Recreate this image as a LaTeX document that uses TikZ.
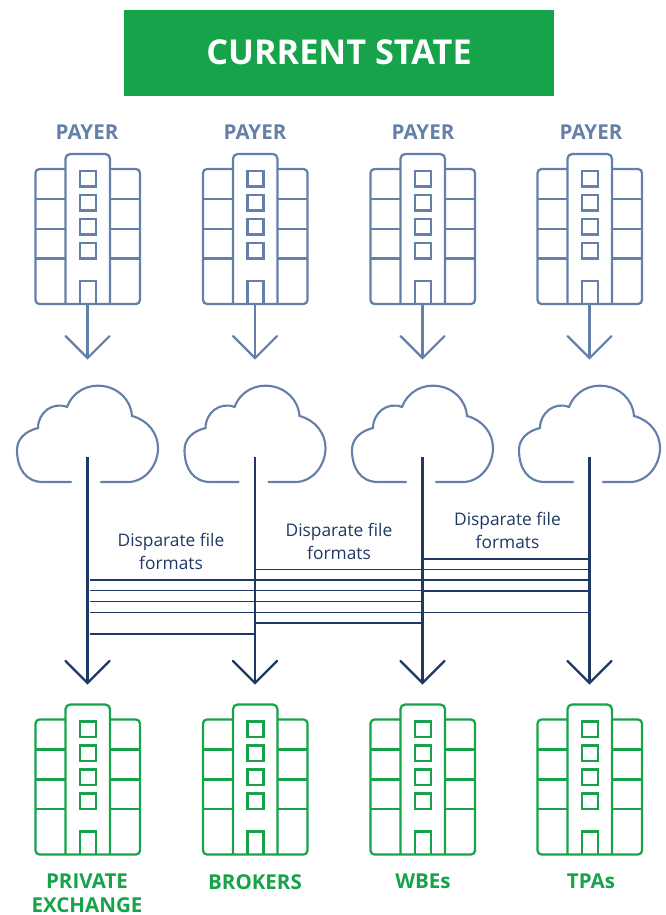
\documentclass[tikz,border=0pt]{standalone}
\usepackage{fontspec}
\setmainfont{Open Sans}
\definecolor{payerblue}{HTML}{6580A8}
\definecolor{darknavy}{HTML}{1F3864}
\definecolor{bannergreen}{HTML}{16A34A}
\tikzset{
  x=0.75pt,y=-0.75pt,
  pics/building/.style={code={
    \draw[rounded corners=3pt,line width=1.7pt,draw=#1] (-22,169) -- (-52,169) -- (-52,304) -- (52.5,304) -- (52.5,169) -- (22.5,169);
    \draw[rounded corners=3.5pt,line width=1.7pt,draw=#1] (-22,304) -- (-22,154) -- (22.5,154) -- (22.5,304);
    \draw[line width=1.7pt,draw=#1]
      (-52,199) -- (-22,199) (22.5,199) -- (52.5,199)
      (-52,229) -- (-22,229) (22.5,229) -- (52.5,229)
      (-52,258.5) -- (-22,258.5) (22.5,258.5) -- (52.5,258.5)
      (-7.5,304) -- (-7.5,281) -- (8.5,281) -- (8.5,304)
      (-7.5,171) rectangle (8.5,186.5)
      (-7.5,195) rectangle (8.5,210.5)
      (-7.5,219) rectangle (8.5,234.5)
      (-7.5,243) rectangle (8.5,258.5);
  }},
  pics/cloudshape/.style={code={
    \draw[line width=1.6pt,draw=payerblue,line cap=round]
      (-16.5,482) -- (-44.5,482)
      .. controls (-62,482) and (-70.5,468) .. (-70.5,450)
      .. controls (-70.5,439) and (-62,431) .. (-49.5,428)
      .. controls (-49.5,412.6) and (-34.8,401.3) .. (-20.5,407)
      .. controls (-7.8,374) and (41.4,381) .. (44.5,416)
      .. controls (60,420) and (70.5,433) .. (70.5,448)
      .. controls (70.5,466) and (57,482) .. (40.5,482)
      -- (13.5,482);
  }},
  stem/.style={line width=2pt,draw=darknavy},
  link/.style={line width=1pt,draw=darknavy},
  fileslabel/.style={align=center,text=darknavy,font=\fontsize{13}{17.2}\selectfont,inner sep=0pt},
  headlabel/.style={text=payerblue,font=\fontsize{15.4}{16}\selectfont\bfseries,inner sep=0pt},
  footlabel/.style={text=bannergreen,font=\fontsize{15.4}{18}\selectfont\bfseries,inner sep=0pt,align=center,anchor=north},
}
\begin{document}
\begin{tikzpicture}
\useasboundingbox (0,0) rectangle (665,915);
\fill[bannergreen] (124,10) rectangle (554,96);
\node[text=white,font=\fontsize{25.7}{28}\selectfont\bfseries,inner sep=0pt] (title) at (339,52) {CURRENT STATE};

\foreach \i/\cx in {1/87.5,2/255,3/422.5,4/589.5}{
  \coordinate (col\i) at (\cx,0);
  \pic at (\cx,0) {building=payerblue};
  \pic at (\cx,550.5) {building=bannergreen};
  \pic at (\cx,0) {cloudshape};
  \coordinate (p\i) at (\cx,304);
  \coordinate (q\i) at (\cx,358);
  \coordinate (s\i) at (\cx,457);
  \coordinate (t\i) at (\cx,683);
  \draw[line width=1.6pt,draw=payerblue] (p\i) -- (q\i);
  \draw[line width=1.6pt,draw=payerblue,line cap=round] ([xshift=-16.5pt,yshift=16.5pt]q\i) -- (q\i) -- ([xshift=16.5pt,yshift=16.5pt]q\i);
  \draw[stem] (s\i) -- (t\i);
  \draw[stem,line width=1.8pt,line cap=round] ([xshift=-16.5pt,yshift=16.5pt]t\i) -- (t\i) -- ([xshift=16.5pt,yshift=16.5pt]t\i);
}

\node[headlabel] (h1) at (87,132) {PAYER};
\node[headlabel] (h2) at (255,132) {PAYER};
\node[headlabel] (h3) at (423,132) {PAYER};
\node[headlabel] (h4) at (591,132) {PAYER};

\foreach \y in {580,590.7,601.7,612.7,634}{ \draw[link,shorten <=1.8pt] (col1 |- 0,\y) -- (col2 |- 0,\y); }
\foreach \y in {569.7,580,590.7,601.7,612.7,623}{ \draw[link] (col2 |- 0,\y) -- (col3 |- 0,\y); }
\foreach \y in {559,569.7,580,591,612.7}{ \draw[link] (col3 |- 0,\y) -- (col4 |- 0,\y); }

\node[fileslabel] (f1) at (171,551.5) {Disparate file\\formats};
\node[fileslabel] (f2) at (339,541) {Disparate file\\formats};
\node[fileslabel] (f3) at (507.5,530) {Disparate file\\formats};

\node[footlabel] (b1) at (87,874) {PRIVATE\\EXCHANGE};
\node[footlabel] (b2) at (255,874) {BROKERS};
\node[footlabel] (b3) at (423,874) {WBEs};
\node[footlabel] (b4) at (591,874) {TPAs};
\end{tikzpicture}
\end{document}
